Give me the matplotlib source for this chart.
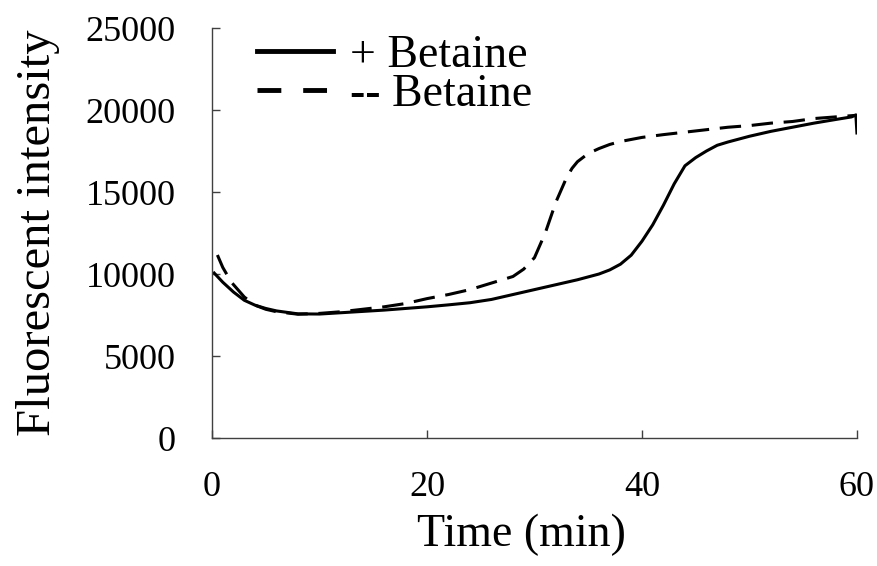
import matplotlib.pyplot as plt
from matplotlib.lines import Line2D

# + Betaine (linha continua)
tempo_com = [0.2, 1, 2, 3, 4, 5, 6, 8, 10, 12, 14, 16, 18, 20, 22, 24, 26, 28, 30,
             32, 34, 36, 37, 38, 39, 40, 41, 42, 43, 44, 45, 46, 47, 48, 50, 52,
             54, 56, 58, 59.5, 59.9, 60]
fluor_com = [10060, 9500, 8900, 8400, 8100, 7900, 7750, 7570, 7560, 7640, 7720,
             7800, 7900, 8000, 8120, 8250, 8450, 8750, 9050, 9350, 9650, 10000,
             10250, 10600, 11150, 12000, 13000, 14200, 15500, 16600, 17100, 17500,
             17850, 18050, 18400, 18700, 18950, 19200, 19420, 19580, 19700, 18600]

# -- Betaine (linha tracejada)
tempo_sem = [0.5, 1, 1.8, 3, 4, 5, 6, 8, 10, 12, 14, 16, 18, 20, 22, 24, 26, 28,
             29, 30, 31, 32, 33, 33.5, 34, 35, 36, 37, 38, 40, 42, 44, 46, 48, 50,
             52, 54, 56, 58, 60]
fluor_sem = [11160, 10400, 9500, 8600, 8100, 7850, 7700, 7550, 7600, 7700, 7850,
             8000, 8200, 8500, 8750, 9050, 9450, 9850, 10300, 11000, 12500, 14400,
             15900, 16450, 16850, 17350, 17650, 17900, 18080, 18330, 18500, 18650,
             18800, 18950, 19050, 19200, 19300, 19480, 19580, 19680]

rotulos = ["+ Betaine", "-- Betaine"]
ticks_x = [0, 20, 40, 60]
ticks_y = [0, 5000, 10000, 15000, 20000, 25000]

plt.rcParams['font.family'] = ['Liberation Serif', 'DejaVu Serif']

fig = plt.figure(figsize=(8.78, 5.66), dpi=100)
ax = fig.add_axes([0.2415, 0.2261, 0.7345, 0.7244])

ax.plot(tempo_com, fluor_com, color='black', lw=2.2, solid_joinstyle='round')
ax.plot(tempo_sem, fluor_sem, color='black', lw=2.2, linestyle=(0, (7, 3.5)))

ax.set_xlim(0, 60)
ax.set_ylim(0, 25000)
ax.set_xticks(ticks_x)
ax.set_yticks(ticks_y)
ax.tick_params(direction='in', length=6, width=1, color='#404040', labelsize=26)
ax.tick_params(axis='x', pad=24)
ax.tick_params(axis='y', pad=26)

for lado in ['top', 'right']:
    ax.spines[lado].set_visible(False)
for lado in ['left', 'bottom']:
    ax.spines[lado].set_color('#404040')
    ax.spines[lado].set_linewidth(1)

ax.set_xlabel('Time (min)', fontsize=33)
ax.set_ylabel('Fluorescent intensity', fontsize=35)
ax.xaxis.set_label_coords(0.48, -0.185)
ax.yaxis.set_label_coords(-0.235, 0.5)

# Legenda com linhas mais grossas
handles = [Line2D([], [], color='black', lw=3.5),
           Line2D([], [], color='black', lw=3.5, linestyle=(0, (4.9, 4.5)))]
ax.legend(handles, rotulos, loc='upper left', bbox_to_anchor=(0.07, 0.985),
          frameon=False, fontsize=33, handlelength=1.66, handletextpad=0.37,
          labelspacing=-0.06, borderpad=0, borderaxespad=0)

fig.savefig('out.png', dpi=100)
